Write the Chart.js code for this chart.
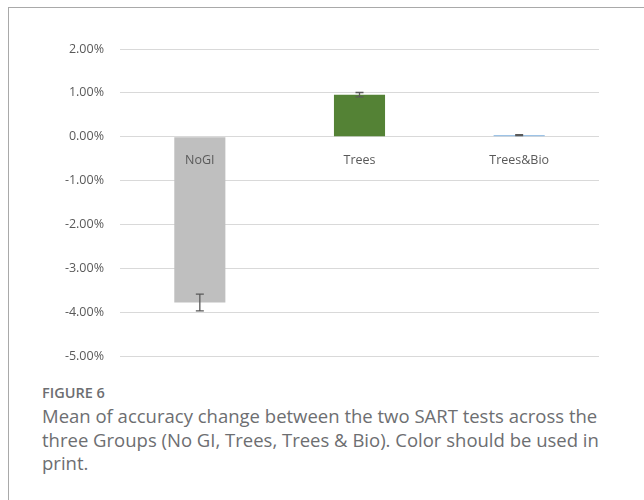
<!DOCTYPE html>
<html>
<head>
<meta charset="utf-8">
<script src="https://cdn.jsdelivr.net/npm/chart.js@4"></script>
<style>
  html, body { margin: 0; padding: 0; background: #fff; }
  body { width: 644px; height: 500px; position: relative; overflow: hidden; font-family: "Open Sans", sans-serif; }
  .frame { position: absolute; left: 8px; top: 7px; right: -2px; bottom: -2px; border-left: 1px solid #a9a9a9; border-top: 1px solid #a9a9a9; }
  #wrap { position: absolute; left: 0; top: 0; width: 644px; height: 380px; }
  .fig-label { position: absolute; left: 42px; top: 384px; font-size: 14.5px; line-height: 18px; font-weight: 600; color: #6d6e71; letter-spacing: 0; }
  .fig-text { position: absolute; left: 42px; top: 404px; font-size: 18.5px; line-height: 23.5px; color: #6d6e71; white-space: nowrap; }
</style>
</head>
<body>
<div class="frame"></div>
<div id="wrap"><canvas id="chart"></canvas></div>
<div class="fig-label">FIGURE 6</div>
<div class="fig-text">Mean of accuracy change between the two SART tests across the<br>three Groups (No GI, Trees, Trees &amp; Bio). Color should be used in<br>print.</div>
<script>
// ─── data ───
const groups = ['NoGI', 'Trees', 'Trees&Bio'];
const meanChange = [-3.77, 0.96, 0.04];      // %
const errorSize = [0.19, 0.05, 0.01];        // ± %
const barColors = ['#bfbfbf', '#548235', '#9dc3e6'];
const yTicks = [2, 1, 0, -1, -2, -3, -4, -5];

// ─── error bars ───
const errorBars = {
    id: 'errorBars',
    afterDatasetsDraw(chart) {
        const { ctx, scales: { y } } = chart;
        const meta = chart.getDatasetMeta(0);
        ctx.save();
        ctx.strokeStyle = '#595959';
        ctx.lineWidth = 1.3;
        meta.data.forEach((bar, i) => {
            const v = meanChange[i], e = errorSize[i];
            const top = y.getPixelForValue(v + e);
            const bot = y.getPixelForValue(v - e);
            const x = bar.x;
            ctx.beginPath();
            ctx.moveTo(x, top); ctx.lineTo(x, bot);
            ctx.moveTo(x - 4, top); ctx.lineTo(x + 4, top);
            ctx.moveTo(x - 4, bot); ctx.lineTo(x + 4, bot);
            ctx.stroke();
        });
        ctx.restore();
    }
};

new Chart(document.getElementById('chart'), {
    type: 'bar',
    data: {
        labels: groups,
        datasets: [{
            data: meanChange,
            backgroundColor: barColors,
            borderWidth: 0,
            barPercentage: 0.8,
            categoryPercentage: 0.4
        }]
    },
    options: {
        responsive: true,
        maintainAspectRatio: false,
        animation: false,
        layout: { padding: { top: 49, right: 45, bottom: 23, left: 0 } },
        plugins: { legend: { display: false }, tooltip: { enabled: false } },
        scales: {
            x: {
                position: { y: 0 },
                grid: { display: false },
                border: { display: false },
                ticks: { z: 1, color: '#595959', font: { family: 'Open Sans', size: 12.5 }, padding: 8 }
            },
            y: {
                min: -5,
                max: 2,
                afterBuildTicks: s => { s.ticks = yTicks.map(v => ({ value: v })); },
                afterFit: s => { s.width = 120; },
                grid: { color: '#d9d9d9', lineWidth: 1, drawTicks: false },
                border: { display: false },
                ticks: {
                    color: '#595959',
                    padding: 16,
                    font: { family: 'Open Sans', size: 12.5 },
                    callback: v => v.toFixed(2) + '%'
                }
            }
        }
    },
    plugins: [errorBars]
});
</script>
</body>
</html>
